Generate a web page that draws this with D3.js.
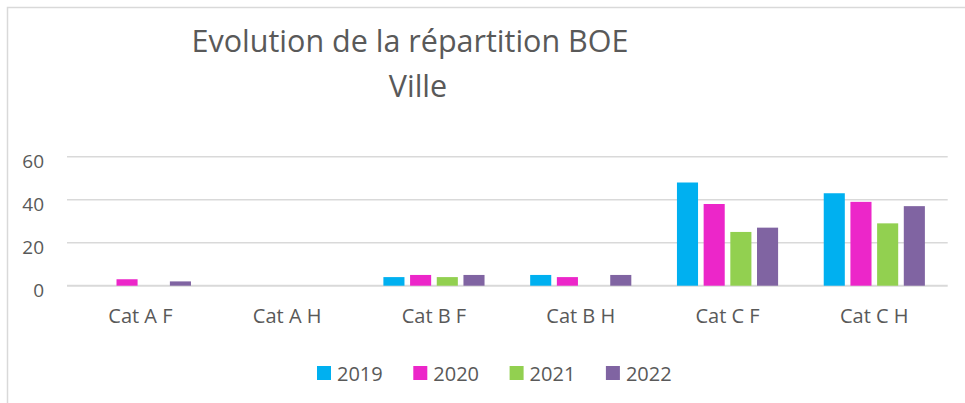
<!DOCTYPE html>
<html>
<head>
<meta charset="utf-8">
<script src="https://cdn.jsdelivr.net/npm/d3@7"></script>
<style>
  body { margin: 0; background: #fff; }
  text { font-family: "Open Sans", "Noto Sans", sans-serif; fill: #595959; }
</style>
</head>
<body>
<svg id="chart" width="965" height="403"></svg>
<script>
// data
var categories = ["Cat A F", "Cat A H", "Cat B F", "Cat B H", "Cat C F", "Cat C H"];
var years = ["2019", "2020", "2021", "2022"];
var v2019 = [0, 0, 4, 5, 48, 43];
var v2020 = [3, 0, 5, 4, 38, 39];
var v2021 = [0, 0, 4, 0, 25, 29];
var v2022 = [2, 0, 5, 5, 27, 37];
var yTicks = [0, 20, 40, 60];
var colors = ["#00b0f0", "#ec26c9", "#92d050", "#8064a2"];

var series = [v2019, v2020, v2021, v2022];
var svg = d3.select("#chart");

var plotLeft = 67, plotRight = 947.7;

// chart area border (cropped on right / bottom)
svg.append("path")
    .attr("d", "M7.5 403 L7.5 7.5 L965 7.5")
    .attr("fill", "none")
    .attr("stroke", "#d9d9d9")
    .attr("stroke-width", 1.5);

// title
var title = svg.append("text")
    .attr("text-anchor", "middle")
    .attr("font-size", 30.5);
title.append("tspan").attr("x", 410).attr("y", 52).text("Evolution de la répartition BOE");
title.append("tspan").attr("x", 418).attr("y", 97).text("Ville");

var y = d3.scaleLinear()
    .domain([0, 60])
    .range([285.7, 156.7]);

var x0 = d3.scaleBand()
    .domain(categories)
    .range([plotLeft, plotRight])
    .padding(0);

var x1 = d3.scaleBand()
    .domain(years)
    .range([0, x0.bandwidth()])
    .paddingInner(0.21)
    .paddingOuter(0.855);

// gridlines
svg.append("g")
    .selectAll("line")
    .data(yTicks)
    .enter()
    .append("line")
    .attr("x1", plotLeft)
    .attr("x2", plotRight)
    .attr("y1", function (d) { return y(d); })
    .attr("y2", function (d) { return y(d); })
    .attr("stroke", "#d9d9d9")
    .attr("stroke-width", function (d) { return d == 0 ? 2 : 1.5; });

// y tick labels
svg.append("g")
    .selectAll("text")
    .data(yTicks)
    .enter()
    .append("text")
    .attr("x", 44)
    .attr("y", function (d) { return y(d) + 11.5; })
    .attr("text-anchor", "end")
    .attr("font-size", 19)
    .text(function (d) { return d; });

// bars
var groups = svg.append("g")
    .selectAll("g")
    .data(series)
    .enter()
    .append("g")
    .attr("fill", function (d, i) { return colors[i]; });

groups.selectAll("rect")
    .data(function (d, i) {
        return d.map(function (v, j) { return {cat: categories[j], year: years[i], value: v}; });
    })
    .enter()
    .append("rect")
    .attr("x", function (d) { return x0(d.cat) + x1(d.year); })
    .attr("width", x1.bandwidth())
    .attr("y", function (d) { return y(d.value); })
    .attr("height", function (d) { return y(0) - y(d.value); });

// category labels
svg.append("g")
    .selectAll("text")
    .data(categories)
    .enter()
    .append("text")
    .attr("x", function (d) { return x0(d) + x0.bandwidth() / 2; })
    .attr("y", 323)
    .attr("text-anchor", "middle")
    .attr("font-size", 20)
    .text(function (d) { return d; });

// legend
var legend = svg.append("g")
    .selectAll("g")
    .data(years)
    .enter()
    .append("g")
    .attr("transform", function (d, i) { return "translate(" + (317 + i * 96.3) + ",366)"; });
legend.append("rect")
    .attr("width", 14)
    .attr("height", 14)
    .attr("fill", function (d, i) { return colors[i]; });
legend.append("text")
    .attr("x", 20)
    .attr("y", 14.5)
    .attr("font-size", 20)
    .text(function (d) { return d; });
</script>
</body>
</html>
